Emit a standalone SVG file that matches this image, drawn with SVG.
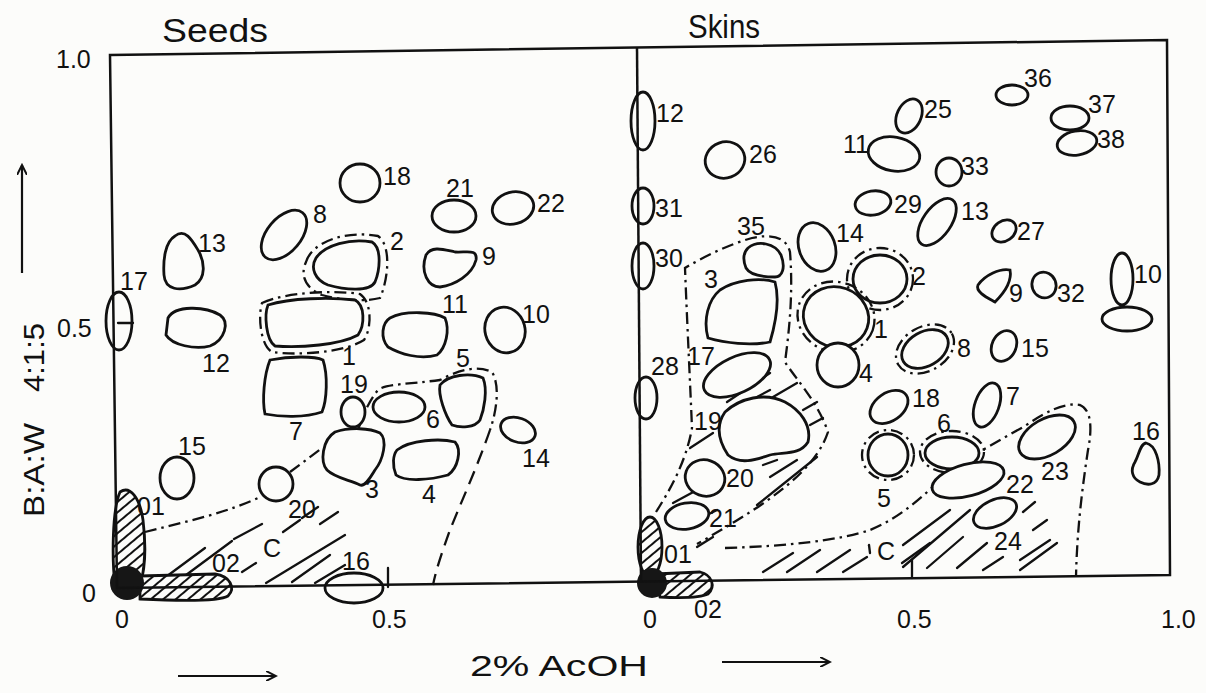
<svg xmlns="http://www.w3.org/2000/svg" width="1206" height="693" viewBox="0 0 1206 693">
<defs>
<style>
.s{fill:#fcfcfa;stroke:#111;stroke-width:2.8}
.dd{fill:none;stroke:#111;stroke-width:2.3;stroke-dasharray:12 5 2.5 5}
.da{fill:none;stroke:#111;stroke-width:2.3;stroke-dasharray:14 8}
.h{fill:none;stroke:#111;stroke-width:2.3;stroke-linecap:round}
.hf{fill:url(#hp);stroke:#111;stroke-width:2.8}
.fr{fill:none;stroke:#111;stroke-width:2.5}
.t{font-family:"Liberation Sans","DejaVu Sans",sans-serif;font-size:25px;fill:#111}
.ax{font-family:"Liberation Sans","DejaVu Sans",sans-serif;font-size:29px;fill:#111}
.ttl{font-family:"Liberation Sans","DejaVu Sans",sans-serif;font-size:33px;fill:#111}
.arw{stroke:#111;stroke-width:2.2;fill:none}
</style>
<pattern id="hp" width="10" height="8" patternUnits="userSpaceOnUse" patternTransform="rotate(-40)">
<rect width="10" height="8" fill="#fcfcfa"/>
<line x1="0" y1="4" x2="10" y2="4" stroke="#111" stroke-width="2"/>
</pattern>
<marker id="arr" markerWidth="12" markerHeight="10" refX="10" refY="5" orient="auto" markerUnits="userSpaceOnUse">
<path d="M0,0 L10,5 L0,10" fill="none" stroke="#111" stroke-width="2"/>
</marker>
</defs>
<rect width="1206" height="693" fill="#fcfcfa"/>

<g id="hatching">
<line class="h" x1="155" y1="585" x2="205" y2="548"/>
<line class="h" x1="182" y1="578" x2="232" y2="541"/>
<line class="h" x1="234" y1="539" x2="262" y2="524"/>
<line class="h" x1="242" y1="572" x2="256" y2="563"/>
<line class="h" x1="283" y1="532" x2="300" y2="520"/>
<line class="h" x1="302" y1="518" x2="318" y2="507"/>
<line class="h" x1="266" y1="583" x2="345" y2="535"/>
<line class="h" x1="292" y1="582" x2="330" y2="555"/>
<line class="h" x1="315" y1="583" x2="345" y2="565"/>
<line class="h" x1="320" y1="524" x2="338" y2="512"/>
<line class="h" x1="763" y1="572" x2="793" y2="553"/>
<line class="h" x1="787" y1="572" x2="820" y2="550"/>
<line class="h" x1="817" y1="572" x2="850" y2="550"/>
<line class="h" x1="843" y1="572" x2="867" y2="557"/>
<line class="h" x1="902" y1="563" x2="930" y2="543"/>
<line class="h" x1="903" y1="545" x2="950" y2="510"/>
<line class="h" x1="903" y1="567" x2="970" y2="510"/>
<line class="h" x1="927" y1="568" x2="963" y2="537"/>
<line class="h" x1="957" y1="568" x2="987" y2="543"/>
<line class="h" x1="983" y1="570" x2="1003" y2="557"/>
<line class="h" x1="1020" y1="570" x2="1057" y2="543"/>
<line class="h" x1="1020" y1="560" x2="1050" y2="540"/>
<line class="h" x1="1033" y1="530" x2="1047" y2="520"/>
<line class="h" x1="1023" y1="512" x2="1035" y2="502"/>
<line class="h" x1="727" y1="402" x2="770" y2="373"/>
<line class="h" x1="757" y1="397" x2="770" y2="390"/>
<line class="h" x1="773" y1="397" x2="797" y2="383"/>
<line class="h" x1="803" y1="410" x2="817" y2="402"/>
<line class="h" x1="810" y1="425" x2="823" y2="418"/>
<line class="h" x1="690" y1="448" x2="713" y2="433"/>
<line class="h" x1="763" y1="465" x2="777" y2="460"/>
<line class="h" x1="770" y1="477" x2="797" y2="460"/>
<line class="h" x1="757" y1="505" x2="817" y2="457"/>
<line class="h" x1="673" y1="503" x2="697" y2="490"/>
<line class="h" x1="683" y1="527" x2="717" y2="510"/>
<line class="h" x1="697" y1="547" x2="713" y2="537"/>
<line class="h" x1="388" y1="568" x2="388" y2="587"/>
<line class="h" x1="912" y1="560" x2="912" y2="578"/>
<line class="h" x1="869" y1="545" x2="870" y2="553"/>
</g>

<g id="connectors">
<path class="dd" d="M145,532 C185,522 230,512 262,496"/>
<path class="dd" d="M290,472 L322,448"/>
<path class="dd" d="M358,430 C362,418 368,402 378,390 C385,384 410,384 440,380 C455,372 475,364 492,372 C500,385 497,410 490,430"/>
<path class="da" d="M490,430 C478,465 462,500 450,530 C442,552 436,570 433,585"/>
<path class="dd" d="M656,512 C670,490 686,462 692,428 C690,380 687,320 685,268 C705,256 730,244 752,238 C770,234 786,236 790,252 C793,290 790,325 785,362 C795,378 818,402 828,432 C818,462 790,485 758,507 C738,520 718,532 697,544"/>
<path class="dd" d="M725,548 C790,546 840,540 870,530 C900,518 925,495 945,475 C960,462 1000,440 1025,426 C1045,412 1065,402 1080,405 C1092,410 1092,430 1088,450 C1082,490 1077,530 1076,577"/>
</g>

<g id="seeds">
<g id="sd17"><ellipse class="s" cx="119" cy="321" rx="13" ry="29" style="fill:none"/><line class="h" x1="118" y1="323" x2="133" y2="323"/><text class="t" x="120" y="290">17</text></g>
<g id="sd13"><path class="s" d="M175,236 C185,228 192,240 198,250 C205,262 206,278 195,285 C180,292 165,290 164,275 C163,260 165,242 175,236 Z"/><text class="t" x="198" y="252">13</text></g>
<g id="sd12"><path class="s" d="M168,318 C175,305 205,306 220,315 C230,322 225,340 210,346 C195,350 172,345 166,335 Z"/><text class="t" x="202" y="372">12</text></g>
<g id="sd8"><ellipse class="s" cx="284" cy="235" rx="17" ry="29" transform="rotate(40 284 235)"/><text class="t" x="313" y="223">8</text></g>
<g id="sd18"><ellipse class="s" cx="360" cy="183" rx="20" ry="19"/><text class="t" x="383" y="185">18</text></g>
<g id="sd2"><path class="s" d="M316,258 C325,245 350,238 372,242 C382,248 380,270 375,282 C370,292 345,290 328,285 C315,280 310,268 316,258 Z"/><path class="dd" d="M306,262 C312,242 345,230 378,236 C392,246 388,280 380,298 C365,302 340,300 322,295 C305,288 300,275 306,262 Z"/><text class="t" x="390" y="250">2</text></g>
<g id="sd1"><path class="s" d="M268,305 C290,298 330,297 355,300 C365,305 365,325 358,335 C340,345 300,348 275,346 C266,340 264,315 268,305 Z"/><path class="dd" d="M262,303 C285,292 335,290 360,294 C372,302 372,328 364,340 C345,352 300,356 272,352 C260,345 258,315 262,303 Z"/><text class="t" x="342" y="365">1</text></g>
<g id="sd7"><path class="s" d="M270,360 C290,356 315,356 323,360 C328,375 327,400 322,412 C305,418 280,417 265,414 C262,400 264,375 270,360 Z"/><text class="t" x="289" y="440">7</text></g>
<g id="sd19"><ellipse class="s" cx="353" cy="412" rx="12" ry="15"/><text class="t" x="340" y="393">19</text></g>
<g id="sd3"><path class="s" d="M335,432 C350,427 370,428 380,433 C388,440 383,460 375,470 C370,478 365,487 360,485 C350,480 335,478 327,470 C320,462 322,440 335,432 Z"/><text class="t" x="365" y="498">3</text></g>
<g id="sd6"><ellipse class="s" cx="399" cy="407" rx="26" ry="15"/><text class="t" x="426" y="428">6</text></g>
<g id="sd5"><path class="s" d="M440,385 C448,375 470,372 483,378 C488,390 484,410 480,420 C475,428 460,428 452,425 C445,415 438,395 440,385 Z"/><text class="t" x="456" y="367">5</text></g>
<g id="sd14"><ellipse class="s" cx="518" cy="430" rx="18" ry="12" transform="rotate(20 518 430)"/><text class="t" x="522" y="467">14</text></g>
<g id="sd4"><path class="s" d="M397,450 C410,440 440,438 455,442 C462,450 458,468 448,475 C430,480 405,482 396,475 C392,465 393,455 397,450 Z"/><text class="t" x="422" y="503">4</text></g>
<g id="sd11"><path class="s" d="M390,318 C405,310 435,312 445,318 C450,330 446,348 437,355 C420,360 400,354 388,347 C380,338 382,323 390,318 Z"/><text class="t" x="442" y="313">11</text></g>
<g id="sd10"><ellipse class="s" cx="505" cy="330" rx="20" ry="23" transform="rotate(-15 505 330)"/><text class="t" x="522" y="323">10</text></g>
<g id="sd9"><path class="s" d="M426,255 C432,245 445,250 455,252 C465,253 478,248 476,260 C472,275 455,285 440,287 C428,287 420,272 426,255 Z"/><text class="t" x="482" y="265">9</text></g>
<g id="sd21"><ellipse class="s" cx="454" cy="216" rx="22" ry="16"/><text class="t" x="446" y="197">21</text></g>
<g id="sd22"><ellipse class="s" cx="513" cy="208" rx="21" ry="16" transform="rotate(-15 513 208)"/><text class="t" x="537" y="212">22</text></g>
<g id="sd15"><ellipse class="s" cx="177" cy="478" rx="17" ry="21"/><text class="t" x="178" y="455">15</text></g>
<g id="sd20"><circle class="s" cx="276" cy="484" r="17"/><text class="t" x="288" y="518">20</text></g>
<g id="sd01"><path class="hf" d="M120,492 C130,485 140,498 143,520 C146,545 145,570 140,585 L115,585 C112,560 112,510 120,492 Z"/><text class="t" x="137" y="515">01</text></g>
<g id="sd02"><path class="hf" d="M140,576 L215,574 C230,576 236,588 228,596 C220,601 180,601 140,599 Z"/><text class="t" x="212" y="572">02</text></g>
<g id="sd0"><circle cx="127" cy="583" r="17" fill="#161616"/></g>
<g id="sd16"><ellipse class="s" cx="354" cy="588" rx="29" ry="15"/><text class="t" x="342" y="570">16</text></g>
<g id="sdC"><text class="t" x="263" y="557">C</text></g>
</g>

<g id="skins">
<g id="sk12"><ellipse class="s" cx="643" cy="121" rx="12" ry="29" style="fill:none"/><text class="t" x="656" y="122">12</text></g>
<g id="sk31"><ellipse class="s" cx="643" cy="206" rx="11" ry="18" style="fill:none"/><text class="t" x="655" y="217">31</text></g>
<g id="sk30"><ellipse class="s" cx="643" cy="266" rx="11" ry="23" style="fill:none"/><text class="t" x="655" y="267">30</text></g>
<g id="sk28"><ellipse class="s" cx="646" cy="398" rx="11" ry="21" style="fill:none"/><text class="t" x="651" y="375">28</text></g>
<g id="sk26"><ellipse class="s" cx="725" cy="160" rx="20" ry="18" transform="rotate(-20 725 160)"/><text class="t" x="749" y="163">26</text></g>
<g id="sk35"><path class="s" d="M748,248 C758,240 775,243 781,255 C786,268 782,277 775,277 C760,277 750,275 746,268 C742,258 744,252 748,248 Z"/><text class="t" x="737" y="235">35</text></g>
<g id="sk3"><path class="s" d="M720,290 C735,280 760,277 775,282 C780,300 775,325 770,342 C750,346 725,343 708,338 C703,320 708,300 720,290 Z"/><text class="t" x="704" y="288">3</text></g>
<g id="sk14"><ellipse class="s" cx="817" cy="247" rx="18" ry="25" transform="rotate(-20 817 247)"/><text class="t" x="836" y="242">14</text></g>
<g id="sk11"><ellipse class="s" cx="894" cy="154" rx="26" ry="17" transform="rotate(10 894 154)"/><text class="t" x="843" y="153">11</text></g>
<g id="sk29"><ellipse class="s" cx="873" cy="203" rx="18" ry="12" transform="rotate(-10 873 203)"/><text class="t" x="894" y="213">29</text></g>
<g id="sk2"><ellipse class="s" cx="880" cy="279" rx="27" ry="24"/><ellipse class="dd" cx="880" cy="279" rx="33" ry="31"/><text class="t" x="912" y="285">2</text></g>
<g id="sk1"><ellipse class="s" cx="836" cy="317" rx="33" ry="30" transform="rotate(20 836 317)"/><ellipse class="dd" cx="836" cy="317" rx="39" ry="35" transform="rotate(20 836 317)"/><text class="t" x="874" y="338">1</text></g>
<g id="sk4"><ellipse class="s" cx="838" cy="365" rx="21" ry="22"/><text class="t" x="859" y="382">4</text></g>
<g id="sk17"><ellipse class="s" cx="737" cy="375" rx="36" ry="18" transform="rotate(-25 737 375)"/><text class="t" x="687" y="365">17</text></g>
<g id="sk19"><path class="s" d="M725,412 C740,398 765,392 785,402 C800,410 812,425 808,442 C800,455 785,452 770,455 C755,460 740,465 728,455 C718,440 716,425 725,412 Z"/><text class="t" x="694" y="430">19</text></g>
<g id="sk20"><ellipse class="s" cx="705" cy="478" rx="20" ry="18" transform="rotate(20 705 478)"/><text class="t" x="726" y="487">20</text></g>
<g id="sk21"><ellipse class="s" cx="687" cy="516" rx="22" ry="13" transform="rotate(-10 687 516)"/><text class="t" x="709" y="527">21</text></g>
<g id="sk01"><ellipse class="hf" cx="650" cy="547" rx="12" ry="30"/><text class="t" x="664" y="563">01</text></g>
<g id="sk02"><path class="hf" d="M655,574 L700,572 C712,575 716,586 708,594 C700,598 680,598 660,597 Z"/><text class="t" x="694" y="618">02</text></g>
<g id="sk0"><circle cx="652" cy="583" r="15" fill="#161616"/></g>
<g id="sk25"><ellipse class="s" cx="909" cy="116" rx="12" ry="18" transform="rotate(25 909 116)"/><text class="t" x="924" y="118">25</text></g>
<g id="sk36"><ellipse class="s" cx="1012" cy="95" rx="16" ry="10"/><text class="t" x="1024" y="87">36</text></g>
<g id="sk37"><ellipse class="s" cx="1070" cy="118" rx="19" ry="12"/><text class="t" x="1088" y="113">37</text></g>
<g id="sk38"><ellipse class="s" cx="1077" cy="143" rx="20" ry="12" transform="rotate(-10 1077 143)"/><text class="t" x="1097" y="148">38</text></g>
<g id="sk33"><ellipse class="s" cx="949" cy="172" rx="13" ry="14"/><text class="t" x="961" y="175">33</text></g>
<g id="sk13"><ellipse class="s" cx="937" cy="222" rx="14" ry="27" transform="rotate(35 937 222)"/><text class="t" x="961" y="220">13</text></g>
<g id="sk27"><ellipse class="s" cx="1004" cy="231" rx="13" ry="10" transform="rotate(-35 1004 231)"/><text class="t" x="1017" y="240">27</text></g>
<g id="sk9"><path class="s" d="M978,285 C985,275 1000,268 1010,270 C1012,280 1005,292 995,302 C988,298 975,292 978,285 Z"/><text class="t" x="1009" y="302">9</text></g>
<g id="sk32"><ellipse class="s" cx="1044" cy="285" rx="12" ry="13" transform="rotate(-20 1044 285)"/><text class="t" x="1057" y="302">32</text></g>
<g id="sk10"><ellipse class="s" cx="1122" cy="279" rx="11" ry="26"/><ellipse class="s" cx="1127" cy="319" rx="25" ry="12"/><text class="t" x="1134" y="283">10</text></g>
<g id="sk8"><ellipse class="s" cx="925" cy="349" rx="25" ry="17" transform="rotate(-30 925 349)"/><ellipse class="dd" cx="925" cy="349" rx="31" ry="22" transform="rotate(-30 925 349)"/><text class="t" x="957" y="357">8</text></g>
<g id="sk15"><ellipse class="s" cx="1004" cy="346" rx="12" ry="16" transform="rotate(25 1004 346)"/><text class="t" x="1021" y="357">15</text></g>
<g id="sk18"><ellipse class="s" cx="889" cy="407" rx="21" ry="14" transform="rotate(-35 889 407)"/><text class="t" x="912" y="407">18</text></g>
<g id="sk7"><ellipse class="s" cx="987" cy="405" rx="12" ry="23" transform="rotate(20 987 405)"/><text class="t" x="1006" y="405">7</text></g>
<g id="sk6"><ellipse class="s" cx="952" cy="453" rx="27" ry="16"/><ellipse class="dd" cx="952" cy="452" rx="32" ry="21"/><text class="t" x="937" y="432">6</text></g>
<g id="sk5"><ellipse class="s" cx="888" cy="455" rx="20" ry="21"/><ellipse class="dd" cx="888" cy="455" rx="26" ry="25"/><text class="t" x="877" y="507">5</text></g>
<g id="sk22"><ellipse class="s" cx="968" cy="480" rx="37" ry="16" transform="rotate(-15 968 480)"/><text class="t" x="1006" y="493">22</text></g>
<g id="sk23"><ellipse class="s" cx="1047" cy="437" rx="31" ry="18" transform="rotate(-30 1047 437)"/><text class="t" x="1041" y="480">23</text></g>
<g id="sk24"><ellipse class="s" cx="995" cy="513" rx="23" ry="13" transform="rotate(-25 995 513)"/><text class="t" x="994" y="550">24</text></g>
<g id="sk16"><path class="s" d="M1146,443 C1156,445 1160,462 1159,475 C1157,485 1148,486 1140,482 C1132,478 1130,470 1135,462 C1139,455 1140,444 1146,443 Z"/><text class="t" x="1132" y="440">16</text></g>
<g id="skC"><text class="t" x="877" y="560">C</text></g>
</g>

<g id="frame">
<path class="fr" d="M110,55 L1167,40 L1170,575 L117,588 Z"/>
<line class="fr" x1="637" y1="47" x2="641" y2="582"/>
</g>

<g id="labels">
<text class="ttl" x="162" y="42" textLength="106" lengthAdjust="spacingAndGlyphs">Seeds</text>
<text class="ttl" x="688" y="38" textLength="72" lengthAdjust="spacingAndGlyphs">Skins</text>
<text class="t" x="56" y="68">1.0</text>
<text class="t" x="57" y="337">0.5</text>
<text class="t" x="82" y="602">0</text>
<text class="ax" transform="translate(44,517) rotate(-90)" textLength="94" lengthAdjust="spacingAndGlyphs">B:A:W</text>
<text class="ax" transform="translate(44,392) rotate(-90)" textLength="69" lengthAdjust="spacingAndGlyphs">4:1:5</text>
<line class="arw" x1="22" y1="273" x2="22" y2="165" marker-end="url(#arr)"/>
<text class="t" x="115" y="628">0</text>
<text class="t" x="372" y="628">0.5</text>
<text class="t" x="643" y="628">0</text>
<text class="t" x="897" y="628">0.5</text>
<text class="t" x="1161" y="628">1.0</text>
<text class="ax" x="470" y="676" textLength="178" lengthAdjust="spacingAndGlyphs">2% AcOH</text>
<line class="arw" x1="178" y1="676" x2="276" y2="676" marker-end="url(#arr)"/>
<line class="arw" x1="722" y1="662" x2="830" y2="662" marker-end="url(#arr)"/>
</g>
</svg>
